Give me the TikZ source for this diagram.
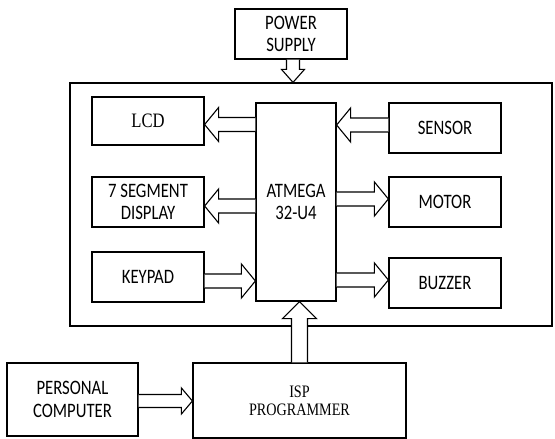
\documentclass[tikz,border=0pt]{standalone}
\usepackage{fontspec}
\newfontfamily\blocksf[FakeStretch=0.815]{Carlito}
\newfontfamily\blockrm[FakeStretch=0.81]{Liberation Serif}
\usetikzlibrary{calc}

\begin{document}
\begin{tikzpicture}[x = 1pt, y = 1pt]
	\tikzstyle{blockStyle} = [draw, line width = 1.2pt, inner sep = 0pt, align = center, minimum width = 112pt, minimum height = 50pt, font = \blocksf\fontsize{20.5}{22.7}\selectfont]
	\tikzstyle{serifStyle} = [blockStyle, font = \blockrm\fontsize{20.5}{22.7}\selectfont]
	\tikzset{hollowStyle/.style n args = {3}{draw, fill = white, line width = 1.1pt, line join = miter,
		to path = {let \p1 = (\tikztostart), \p2 = (\tikztotarget), \n1 = {atan2(\y2-\y1,\x2-\x1)}, \p3 = ($(\p2)!#3!(\p1)$) in
			($(\p1)+(\n1+90:#1)$) -- ($(\p3)+(\n1+90:#1)$) -- ($(\p3)+(\n1+90:#2)$) -- (\p2) -- ($(\p3)+(\n1-90:#2)$) -- ($(\p3)+(\n1-90:#1)$) -- ($(\p1)+(\n1-90:#1)$)}}}
	\tikzstyle{bigArrow} = [hollowStyle = {7pt}{17pt}{14pt}]
	\useasboundingbox (0, 0) rectangle (555, 439);
	% outer board
	\node[draw, line width = 1.2pt, minimum width = 482pt, minimum height = 243pt] (board) at (311, 234.5) {};
	\node[blockStyle] (power) at (291, 405) {POWER\\SUPPLY};
	\node[serifStyle, minimum height = 48pt] (lcd) at (148, 318) {LCD};
	\node[blockStyle, minimum width = 80pt, minimum height = 198pt] (atmega) at (296, 237) {ATMEGA\\32-U4};
	\node[blockStyle] (sensor) at (445, 311) {SENSOR};
	\node[blockStyle] (segment) at (148, 237) {7 SEGMENT\\DISPLAY};
	\node[blockStyle] (motor) at (445, 237) {MOTOR};
	\node[blockStyle] (keypad) at (148, 162) {KEYPAD};
	\node[blockStyle] (buzzer) at (445, 156) {BUZZER};
	\node[serifStyle, minimum width = 213pt, minimum height = 75pt, font = \blockrm\fontsize{17.5}{18}\selectfont] (isp) at (299.5, 38.5) {ISP\\PROGRAMMER};
	\node[blockStyle, minimum width = 131pt, minimum height = 73pt] (pc) at (72.5, 39.5) {PERSONAL\\COMPUTER};
	% arrows
	\draw[hollowStyle = {6.5pt}{11.5pt}{13pt}] ([xshift = 2pt]power.south) to ([xshift = 2pt]power.south |- board.north);
	\draw[bigArrow] ([yshift = -3.5pt]lcd.east -| atmega.west) to ([yshift = -3.5pt]lcd.east);
	\draw[bigArrow] ([yshift = 3pt]sensor.west) to ([yshift = 3pt]sensor.west -| atmega.east);
	\draw[bigArrow] ([yshift = -4pt]segment.east -| atmega.west) to ([yshift = -4pt]segment.east);
	\draw[bigArrow] ([yshift = 3pt]motor.west -| atmega.east) to ([yshift = 3pt]motor.west);
	\draw[bigArrow] ([yshift = -4pt]keypad.east) to ([yshift = -4pt]keypad.east -| atmega.west);
	\draw[bigArrow] ([yshift = 3pt]buzzer.west -| atmega.east) to ([yshift = 3pt]buzzer.west);
	\draw[hollowStyle = {8pt}{17pt}{17pt}] (isp.north) to (isp.north |- atmega.south);
	\draw[hollowStyle = {6.5pt}{13pt}{11pt}] ([yshift = -1.5pt]pc.east) to ([yshift = -1.5pt]pc.east -| isp.west);
\end{tikzpicture}
\end{document}
